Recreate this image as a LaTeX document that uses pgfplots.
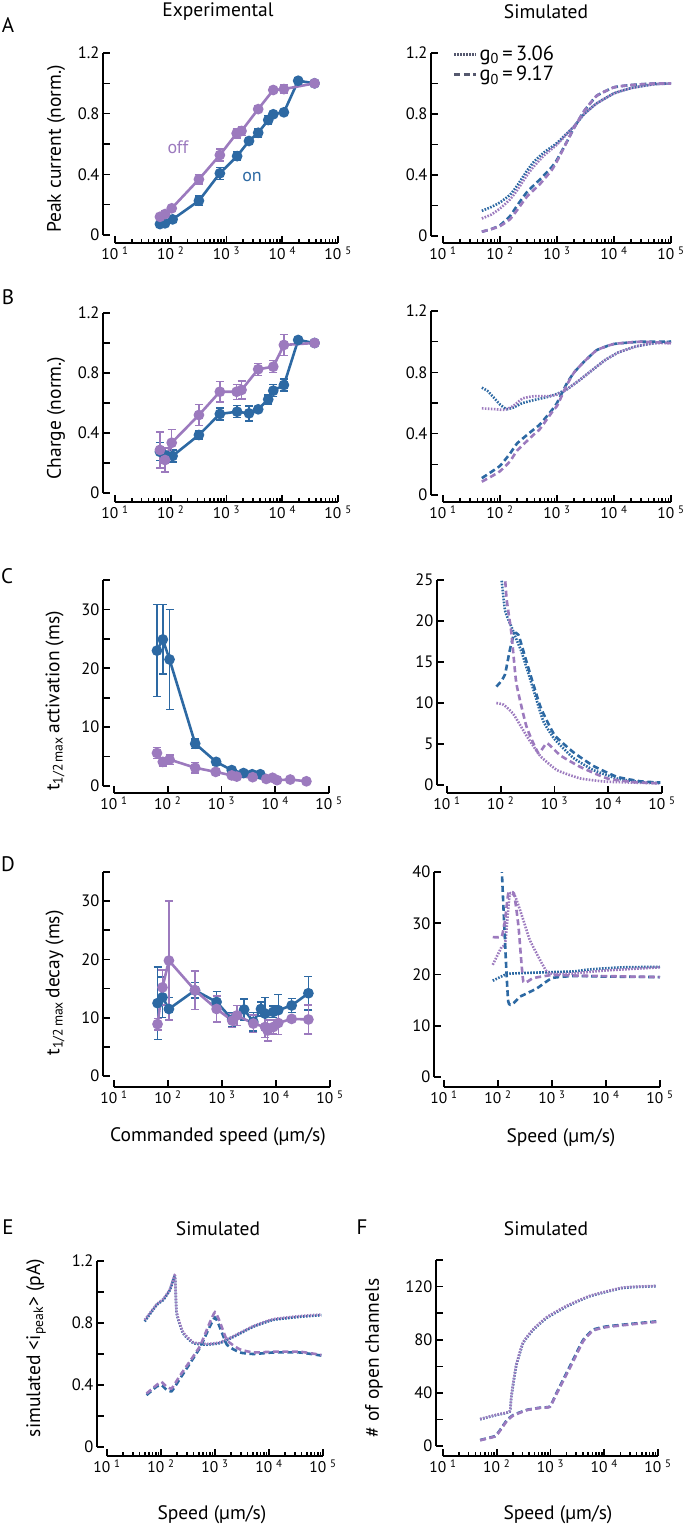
\documentclass[border=0pt]{standalone}
\usepackage{fontspec}
\setmainfont{PT Sans}
\usepackage{pgfplots}
\pgfplotsset{compat=1.18}
\definecolor{cpur}{RGB}{156,122,190}
\definecolor{cblu}{RGB}{45,105,163}
\definecolor{cleg}{RGB}{85,88,110}
\newcommand{\LF}{\fontsize{19.5}{21}\selectfont}
\newcommand{\GF}{\fontsize{20.5}{22}\selectfont}
\newcommand{\TF}{\fontsize{16.5}{17}\selectfont}
\newcommand{\XF}{\fontsize{15.5}{16}\selectfont}
\newcommand{\PF}{\fontsize{21}{22}\selectfont}
\newcommand{\OF}{\fontsize{18}{19}\selectfont}
\tikzset{
 expl/.style={line width=2.6pt, mark=*, mark size=4pt, mark options={solid}},
 dotl/.style={line width=2.6pt, dash pattern=on 1.6pt off 1.4pt, smooth, tension=0.25},
 dashl/.style={line width=2.6pt, dash pattern=on 6pt off 3.5pt, smooth, tension=0.25},
}
\begin{document}
\begin{tikzpicture}
\useasboundingbox (0,0) rectangle (683pt,-1525pt);
% ---------- A left
\begin{axis}[scale only axis, xmode=log, xmin=10, xmax=100000, ymin=0, axis lines=left, axis line style={line width=2.2pt,-}, tick align=inside, tick style={black, line width=1.6pt}, major tick length=7pt, minor tick length=4pt, xtick={10,100,1000,10000,100000}, xticklabels={10\kern4pt\textsuperscript{1},10\kern4pt\textsuperscript{2},10\kern4pt\textsuperscript{3},10\kern4pt\textsuperscript{4},10\kern4pt\textsuperscript{5}}, yticklabel style={font=\TF}, xticklabel style={font=\XF},
  at={(115pt,-235pt)}, anchor=south west, width=223pt, height=182pt, ymax=1.2,
  axis x line shift=8pt, axis y line shift=12pt,
  ytick={0,0.2,0.4,0.6,0.8,1.0,1.2}, yticklabels={0,,0.4,,0.8,,1.2}]
\addplot[cblu, expl, error bars/.cd, y dir=both, y explicit, error bar style={line width=1.4pt}, error mark options={rotate=90, mark size=4pt, line width=1.4pt}] coordinates {(64,0.072)+-(0,0.01) (79,0.077)+-(0,0.01) (108,0.103)+-(0,0.02) (320,0.226)+-(0,0.03) (760,0.407)+-(0,0.04) (1550,0.52)+-(0,0.03) (2530,0.62)+-(0,0.02) (3700,0.674)+-(0,0.03) (5600,0.758)+-(0,0.03) (6900,0.796)+-(0,0.02) (10700,0.809)+-(0,0.01) (19300,1.017)+-(0,0) (38000,1.0)+-(0,0)};
\addplot[cpur, expl, error bars/.cd, y dir=both, y explicit, error bar style={line width=1.4pt}, error mark options={rotate=90, mark size=4pt, line width=1.4pt}] coordinates {(64,0.12)+-(0,0.02) (79,0.138)+-(0,0.02) (104,0.176)+-(0,0.02) (320,0.367)+-(0,0.03) (760,0.527)+-(0,0.04) (1520,0.67)+-(0,0.03) (1860,0.686)+-(0,0.03) (3700,0.83)+-(0,0.02) (6900,0.956)+-(0,0.01) (10700,0.962)+-(0,0.03) (38000,1.0)+-(0,0)};
\end{axis}
% ---------- A right
\begin{axis}[scale only axis, xmode=log, xmin=10, xmax=100000, ymin=0, axis lines=left, axis line style={line width=2.2pt,-}, tick align=inside, tick style={black, line width=1.6pt}, major tick length=7pt, minor tick length=4pt, xtick={10,100,1000,10000,100000}, xticklabels={10\kern4pt\textsuperscript{1},10\kern4pt\textsuperscript{2},10\kern4pt\textsuperscript{3},10\kern4pt\textsuperscript{4},10\kern4pt\textsuperscript{5}}, yticklabel style={font=\TF}, xticklabel style={font=\XF},
  at={(443pt,-236pt)}, anchor=south west, width=228pt, height=183pt, ymax=1.2,
  axis x line shift=7pt, axis y line shift=12pt,
  ytick={0,0.2,0.4,0.6,0.8,1.0,1.2}, yticklabels={0,,0.4,,0.8,,1.2},
  legend style={at={(rel axis cs:0.03,1.06)}, anchor=north west, draw=none, fill=none, font=\GF, row sep=0pt, cells={anchor=west}},
  legend image code/.code={\draw[#1] (0pt,0pt) -- (22pt,0pt);}]
\addlegendimage{cleg, line width=2.6pt, dash pattern=on 1.6pt off 1.4pt}
\addlegendentry{g\textsubscript{0}\,=\,3.06}
\addlegendimage{cleg, line width=2.6pt, dash pattern=on 6pt off 3.5pt}
\addlegendentry{g\textsubscript{0}\,=\,9.17}
\addplot[cblu, dotl] coordinates {(48,0.165) (70,0.19) (100,0.22) (150,0.27) (200,0.33) (300,0.43) (400,0.49) (600,0.55) (1000,0.61) (2000,0.72) (3000,0.8) (5000,0.87) (10000,0.935) (20000,0.97) (50000,0.995) (100000,1.0)};
\addplot[cpur, dotl] coordinates {(48,0.115) (70,0.14) (100,0.18) (150,0.24) (200,0.3) (300,0.4) (400,0.46) (600,0.53) (1000,0.6) (2000,0.72) (3000,0.8) (5000,0.87) (10000,0.935) (20000,0.97) (50000,0.995) (100000,1.0)};
\addplot[cblu, dashl] coordinates {(48,0.028) (70,0.045) (100,0.07) (150,0.13) (200,0.2) (300,0.29) (500,0.37) (800,0.45) (1000,0.5) (1500,0.62) (2000,0.71) (3000,0.82) (5000,0.92) (10000,0.975) (20000,0.99) (50000,1.0) (100000,1.0)};
\addplot[cpur, dashl] coordinates {(48,0.028) (70,0.045) (100,0.065) (150,0.11) (200,0.17) (300,0.26) (500,0.34) (800,0.43) (1000,0.49) (1500,0.62) (2000,0.71) (3000,0.82) (5000,0.92) (10000,0.975) (20000,0.99) (50000,1.0) (100000,1.0)};
\end{axis}
% ---------- B left
\begin{axis}[scale only axis, xmode=log, xmin=10, xmax=100000, ymin=0, axis lines=left, axis line style={line width=2.2pt,-}, tick align=inside, tick style={black, line width=1.6pt}, major tick length=7pt, minor tick length=4pt, xtick={10,100,1000,10000,100000}, xticklabels={10\kern4pt\textsuperscript{1},10\kern4pt\textsuperscript{2},10\kern4pt\textsuperscript{3},10\kern4pt\textsuperscript{4},10\kern4pt\textsuperscript{5}}, yticklabel style={font=\TF}, xticklabel style={font=\XF},
  at={(115pt,-493pt)}, anchor=south west, width=223pt, height=180pt, ymax=1.2,
  axis x line shift=9pt, axis y line shift=12pt,
  ytick={0,0.2,0.4,0.6,0.8,1.0,1.2}, yticklabels={0,,0.4,,0.8,,1.2}]
\addplot[cblu, expl, error bars/.cd, y dir=both, y explicit, error bar style={line width=1.4pt}, error mark options={rotate=90, mark size=4pt, line width=1.4pt}] coordinates {(64,0.275)+-(0,0.06) (79,0.253)+-(0,0.05) (108,0.247)+-(0,0.04) (320,0.387)+-(0,0.03) (760,0.527)+-(0,0.04) (1550,0.542)+-(0,0.04) (2530,0.531)+-(0,0.05) (3700,0.558)+-(0,0.02) (5600,0.624)+-(0,0.03) (6900,0.682)+-(0,0.04) (10700,0.72)+-(0,0.04) (19300,1.02)+-(0,0) (38000,1.0)+-(0,0)};
\addplot[cpur, expl, error bars/.cd, y dir=both, y explicit, error bar style={line width=1.4pt}, error mark options={rotate=90, mark size=4pt, line width=1.4pt}] coordinates {(64,0.287)+-(0,0.12) (79,0.22)+-(0,0.08) (104,0.335)+-(0,0.09) (320,0.52)+-(0,0.07) (760,0.675)+-(0,0.067) (1520,0.675)+-(0,0.05) (1860,0.687)+-(0,0.06) (3700,0.825)+-(0,0.04) (6900,0.842)+-(0,0.04) (10700,0.987)+-(0,0.07) (38000,1.0)+-(0,0)};
\end{axis}
% ---------- B right
\begin{axis}[scale only axis, xmode=log, xmin=10, xmax=100000, ymin=0, axis lines=left, axis line style={line width=2.2pt,-}, tick align=inside, tick style={black, line width=1.6pt}, major tick length=7pt, minor tick length=4pt, xtick={10,100,1000,10000,100000}, xticklabels={10\kern4pt\textsuperscript{1},10\kern4pt\textsuperscript{2},10\kern4pt\textsuperscript{3},10\kern4pt\textsuperscript{4},10\kern4pt\textsuperscript{5}}, yticklabel style={font=\TF}, xticklabel style={font=\XF},
  at={(443pt,-495pt)}, anchor=south west, width=228pt, height=184pt, ymax=1.2,
  axis x line shift=7pt, axis y line shift=12pt,
  ytick={0,0.2,0.4,0.6,0.8,1.0,1.2}, yticklabels={0,,0.4,,0.8,,1.2}]
\addplot[cblu, dotl] coordinates {(48,0.70) (60,0.68) (80,0.63) (100,0.59) (130,0.56) (170,0.57) (250,0.6) (400,0.62) (700,0.64) (1000,0.66) (1500,0.69) (2500,0.75) (4000,0.81) (7000,0.88) (12000,0.93) (25000,0.97) (50000,0.99) (100000,1.0)};
\addplot[cpur, dotl] coordinates {(48,0.565) (80,0.56) (120,0.555) (170,0.58) (250,0.63) (400,0.645) (700,0.645) (1000,0.655) (1500,0.69) (2500,0.75) (4000,0.81) (7000,0.88) (12000,0.93) (25000,0.97) (50000,0.99) (100000,0.99)};
\addplot[cblu, dashl] coordinates {(48,0.11) (70,0.15) (100,0.19) (150,0.27) (200,0.337) (380,0.424) (500,0.46) (800,0.55) (1000,0.6) (1500,0.73) (2000,0.8) (3000,0.87) (5000,0.945) (10000,0.985) (30000,1.0) (100000,1.0)};
\addplot[cpur, dashl] coordinates {(48,0.087) (70,0.12) (100,0.155) (150,0.22) (200,0.29) (380,0.39) (500,0.43) (870,0.554) (1000,0.58) (1500,0.72) (2000,0.8) (3000,0.87) (5000,0.945) (10000,0.985) (30000,1.0) (100000,0.99)};
\end{axis}
% ---------- C left
\begin{axis}[scale only axis, xmode=log, xmin=10, xmax=100000, ymin=0, axis lines=left, axis line style={line width=2.2pt,-}, tick align=inside, tick style={black, line width=1.6pt}, major tick length=7pt, minor tick length=4pt, xtick={10,100,1000,10000,100000}, xticklabels={10\kern4pt\textsuperscript{1},10\kern4pt\textsuperscript{2},10\kern4pt\textsuperscript{3},10\kern4pt\textsuperscript{4},10\kern4pt\textsuperscript{5}}, yticklabel style={font=\TF}, xticklabel style={font=\XF},
  at={(114pt,-786pt)}, anchor=south west, width=215pt, height=206pt, ymax=35,
  axis x line shift=7pt, axis y line shift=11pt, xminorticks=false,
  ytick={0,5,...,35}, yticklabels={0,,10,,20,,30,}]
\addplot[cblu, expl, error bars/.cd, y dir=both, y explicit, error bar style={line width=1.4pt}, error mark options={rotate=90, mark size=4pt, line width=1.4pt}] coordinates {(63,23.0)+-(0,7.8) (81,24.9)+-(0,5.9) (108,21.5)+-(0,8.5) (324,7.2)+-(0,0.8) (795,4.1)+-(0,0.4) (1550,2.7)+-(0,0.3) (2570,2.2)+-(0,0.2) (3720,2.0)+-(0,0.2) (5270,2.0)+-(0,0.2)};
\addplot[cpur, expl, error bars/.cd, y dir=both, y explicit, error bar style={line width=1.4pt}, error mark options={rotate=90, mark size=4pt, line width=1.4pt}] coordinates {(63,5.6)+-(0,0.9) (81,4.1)+-(0,0.7) (108,4.5)+-(0,0.8) (324,3.1)+-(0,0.9) (780,2.4)+-(0,0.5) (1550,1.8)+-(0,0.4) (1920,1.6)+-(0,0.3) (3800,1.5)+-(0,0.3) (6800,1.2)+-(0,0.3) (8900,1.4)+-(0,0.2) (10800,1.0)+-(0,0.2) (19000,1.1)+-(0,0.1) (38000,0.8)+-(0,0.1)};
\end{axis}
% ---------- C right
\begin{axis}[scale only axis, xmode=log, xmin=10, xmax=100000, ymin=0, axis lines=left, axis line style={line width=2.2pt,-}, tick align=inside, tick style={black, line width=1.6pt}, major tick length=7pt, minor tick length=4pt, xtick={10,100,1000,10000,100000}, xticklabels={10\kern4pt\textsuperscript{1},10\kern4pt\textsuperscript{2},10\kern4pt\textsuperscript{3},10\kern4pt\textsuperscript{4},10\kern4pt\textsuperscript{5}}, yticklabel style={font=\TF}, xticklabel style={font=\XF},
  at={(447pt,-785pt)}, anchor=south west, width=215pt, height=205pt, ymax=25,
  axis x line shift=8pt, axis y line shift=10pt, xminorticks=false,
  ytick={0,5,...,25}, yticklabels={0,5,10,15,20,25}]
\addplot[cblu, dotl] coordinates {(100,26) (120,21.3) (158,19.3) (200,17.6) (245,16.2) (398,11.8) (617,7.8) (1000,5.6) (2239,3.3) (5370,1.8) (14454,0.8) (39811,0.35) (93325,0.25)};
\addplot[cpur, dotl] coordinates {(83,10.0) (112,9.8) (170,8.7) (309,5.9) (550,3.5) (1122,1.8) (3020,0.8) (9550,0.4) (93325,0.2)};
\addplot[cblu, dashl] coordinates {(83,12.0) (100,12.6) (120,13.5) (148,16.5) (178,18.5) (214,18.3) (309,14.8) (550,9.5) (1000,6.1) (2239,4.0) (5370,2.3) (14454,1.0) (39811,0.45) (93325,0.3)};
\addplot[cpur, dashl] coordinates {(118,26) (129,22.6) (158,18.5) (195,12.4) (302,7.1) (500,3.9) (724,5.1) (1288,3.6) (3020,2.2) (9550,0.8) (30000,0.35) (93325,0.2)};
\end{axis}
% ---------- D left
\begin{axis}[scale only axis, xmode=log, xmin=10, xmax=100000, ymin=0, axis lines=left, axis line style={line width=2.2pt,-}, tick align=inside, tick style={black, line width=1.6pt}, major tick length=7pt, minor tick length=4pt, xtick={10,100,1000,10000,100000}, xticklabels={10\kern4pt\textsuperscript{1},10\kern4pt\textsuperscript{2},10\kern4pt\textsuperscript{3},10\kern4pt\textsuperscript{4},10\kern4pt\textsuperscript{5}}, yticklabel style={font=\TF}, xticklabel style={font=\XF},
  at={(114pt,-1076pt)}, anchor=south west, width=216pt, height=204pt, ymax=35,
  axis x line shift=11pt, axis y line shift=11pt, xminorticks=false,
  ytick={0,5,...,35}, yticklabels={0,,10,,20,,30,}]
\addplot[cblu, expl, error bars/.cd, y dir=both, y explicit, error bar style={line width=1.4pt}, error mark options={rotate=90, mark size=4pt, line width=1.4pt}] coordinates {(64,12.5)+-(0,6.2) (79,13.5)+-(0,3.5) (104,11.5)+-(0,2.0) (316,14.7)+-(0,1.3) (795,12.7)+-(0,1.8) (1550,9.7)+-(0,1.2) (2570,11.4)+-(0,1.8) (3800,9.3)+-(0,1.6) (5270,11.5)+-(0,1.2) (6300,10.7)+-(0,2.8) (8900,11.0)+-(0,1.0) (11000,11.3)+-(0,2.7) (19500,12.1)+-(0,1.2) (39800,14.2)+-(0,2.9)};
\addplot[cpur, expl, error bars/.cd, y dir=both, y explicit, error bar style={line width=1.4pt}, error mark options={rotate=90, mark size=4pt, line width=1.4pt}] coordinates {(64,8.9)+-(0,1.0) (79,15.2)+-(0,3.0) (104,19.8)+-(0,10.2) (316,14.7)+-(0,3.3) (795,11.5)+-(0,2.2) (1550,9.5)+-(0,1.2) (1900,10.4)+-(0,1.7) (3800,9.0)+-(0,1.5) (6300,8.4)+-(0,1.8) (7000,7.8)+-(0,1.8) (8900,8.4)+-(0,1.2) (11000,9.1)+-(0,2.0) (19500,9.8)+-(0,0.3) (39800,9.7)+-(0,2.5)};
\end{axis}
% ---------- D right
\begin{axis}[scale only axis, xmode=log, xmin=10, xmax=100000, ymin=0, axis lines=left, axis line style={line width=2.2pt,-}, tick align=inside, tick style={black, line width=1.6pt}, major tick length=7pt, minor tick length=4pt, xtick={10,100,1000,10000,100000}, xticklabels={10\kern4pt\textsuperscript{1},10\kern4pt\textsuperscript{2},10\kern4pt\textsuperscript{3},10\kern4pt\textsuperscript{4},10\kern4pt\textsuperscript{5}}, yticklabel style={font=\TF}, xticklabel style={font=\XF},
  at={(444pt,-1077pt)}, anchor=south west, width=216pt, height=205pt, ymax=40,
  axis x line shift=10pt, axis y line shift=10pt, xminorticks=false,
  ytick={0,10,...,40}, yticklabels={0,10,20,30,40}]
\addplot[cblu, dotl] coordinates {(80,18.8) (145,20.1) (191,20.2) (603,20.4) (2455,20.6) (5000,21.0) (20000,21.4) (100000,21.5)};
\addplot[cpur, dotl] coordinates {(80,21.9) (117,25.4) (135,25.8) (150,31) (166,35.8) (209,35.2) (295,30.6) (389,26.7) (603,22.8) (794,20.6) (1047,20.1) (2455,20.2) (10000,20.8) (100000,21.4)};
\addplot[cblu, dashl] coordinates {(117,41) (155,14.7) (257,15.7) (525,17.3) (1000,19.3) (2455,19.7) (10000,19.6) (100000,19.5)};
\addplot[cpur, dashl] coordinates {(80,27.3) (117,27.4) (135,30.6) (155,35.8) (198,35.8) (240,29.3) (295,18.6) (447,19.3) (1000,19.9) (2455,19.8) (100000,19.5)};
\end{axis}
% ---------- E
\begin{axis}[scale only axis, xmode=log, xmin=10, xmax=100000, ymin=0, axis lines=left, axis line style={line width=2.2pt,-}, tick align=inside, tick style={black, line width=1.6pt}, major tick length=7pt, minor tick length=4pt, xtick={10,100,1000,10000,100000}, xticklabels={10\kern4pt\textsuperscript{1},10\kern4pt\textsuperscript{2},10\kern4pt\textsuperscript{3},10\kern4pt\textsuperscript{4},10\kern4pt\textsuperscript{5}}, yticklabel style={font=\TF}, xticklabel style={font=\XF},
  at={(107pt,-1447pt)}, anchor=south west, width=216pt, height=186pt, ymax=1.2,
  axis x line shift=9pt, axis y line shift=10pt,
  ytick={0,0.2,0.4,0.6,0.8,1.0,1.2}, yticklabels={0,,0.4,,0.8,,1.2}]
\addplot[cblu, dotl] coordinates {(50,0.81) (83,0.916) (110,0.948) (145,1.01) (166,1.07) (182,1.1) (195,0.862) (257,0.733) (398,0.67) (708,0.66) (1230,0.67) (2188,0.71) (5129,0.776) (12023,0.82) (37154,0.84) (93325,0.85)};
\addplot[cpur, dotl] coordinates {(50,0.82) (83,0.92) (110,0.955) (145,1.015) (166,1.075) (182,1.105) (195,0.87) (257,0.74) (398,0.675) (708,0.665) (1230,0.675) (2188,0.715) (5129,0.78) (12023,0.825) (37154,0.845) (93325,0.855)};
\addplot[cblu, dashl] coordinates {(54,0.335) (83,0.39) (102,0.40) (126,0.37) (158,0.36) (224,0.44) (525,0.64) (1000,0.835) (1660,0.66) (2884,0.61) (5129,0.60) (12023,0.61) (37154,0.61) (93325,0.59)};
\addplot[cpur, dashl] coordinates {(54,0.345) (83,0.4) (102,0.42) (126,0.39) (158,0.378) (224,0.46) (525,0.65) (1000,0.87) (1660,0.69) (2884,0.63) (5129,0.61) (12023,0.615) (37154,0.615) (93325,0.594)};
\end{axis}
% ---------- F
\begin{axis}[scale only axis, xmode=log, xmin=10, xmax=100000, ymin=0, axis lines=left, axis line style={line width=2.2pt,-}, tick align=inside, tick style={black, line width=1.6pt}, major tick length=7pt, minor tick length=4pt, xtick={10,100,1000,10000,100000}, xticklabels={10\kern4pt\textsuperscript{1},10\kern4pt\textsuperscript{2},10\kern4pt\textsuperscript{3},10\kern4pt\textsuperscript{4},10\kern4pt\textsuperscript{5}}, yticklabel style={font=\TF}, xticklabel style={font=\XF},
  at={(443pt,-1446pt)}, anchor=south west, width=215pt, height=186pt, ymax=140,
  axis x line shift=10pt, axis y line shift=7pt,
  ytick={0,20,...,140}, yticklabels={0,,40,,80,,120,}]
\addplot[cblu, dotl] coordinates {(49,20.1) (100,23.4) (174,25.9) (187,37.2) (229,59.9) (309,77.5) (479,87.5) (851,96.4) (1995,105) (5370,112.7) (22387,119) (93325,120.3)};
\addplot[cpur, dotl] coordinates {(49,20.3) (100,23.6) (174,26.1) (187,37.6) (229,60.5) (309,78) (479,88) (851,97) (1995,105.5) (5370,113) (22387,119.3) (93325,120.5)};
\addplot[cblu, dashl] coordinates {(49,4.5) (93,7.5) (115,12) (155,19.6) (204,23.4) (363,27.2) (646,28.9) (977,29.7) (1288,39.7) (2630,64.9) (4074,80) (6166,87.5) (10965,90) (45709,92.6) (93325,93.8)};
\addplot[cpur, dashl] coordinates {(49,4.3) (93,7.2) (115,11.5) (155,19) (204,23) (363,27) (646,28.7) (977,29.5) (1288,39) (2630,63.5) (4074,79) (6166,86.8) (10965,89.5) (45709,92.2) (93325,93.4)};
\end{axis}
% ---------- texts
\node[font=\LF] at (218pt,-12pt) {Experimental};
\node[font=\LF] at (546pt,-12pt) {Simulated};
\node[font=\PF] at (8pt,-25pt) {A};
\node[font=\PF] at (8pt,-297pt) {B};
\node[font=\PF] at (7pt,-576pt) {C};
\node[font=\PF] at (8pt,-864pt) {D};
\node[font=\PF] at (8pt,-1227pt) {E};
\node[font=\PF] at (362pt,-1227pt) {F};
\node[font=\LF] at (218pt,-1229pt) {Simulated};
\node[font=\LF] at (546pt,-1229pt) {Simulated};
\node[font=\LF, rotate=90] at (56pt,-149pt) {Peak current (norm.)};
\node[font=\LF, rotate=90] at (56pt,-418pt) {Charge (norm.)};
\node[font=\LF, rotate=90] at (55pt,-701pt) {t\textsubscript{1/2\,max}\,activation (ms)};
\node[font=\LF, rotate=90] at (55pt,-983pt) {t\textsubscript{1/2\,max}\,decay (ms)};
\node[font=\LF, rotate=90] at (36pt,-1348pt) {simulated <i\textsubscript{peak}> (pA)};
\node[font=\LF, rotate=90] at (374pt,-1358pt) {\# of open channels};
\node[font=\LF] at (218pt,-1137pt) {Commanded speed (µm/s)};
\node[font=\LF] at (561pt,-1138pt) {Speed (µm/s)};
\node[font=\LF] at (212pt,-1515pt) {Speed (µm/s)};
\node[font=\LF] at (558pt,-1515pt) {Speed (µm/s)};
\node[font=\OF, text=cpur] at (178pt,-147pt) {off};
\node[font=\OF, text=cblu] at (252pt,-177pt) {on};
\end{tikzpicture}
\end{document}
